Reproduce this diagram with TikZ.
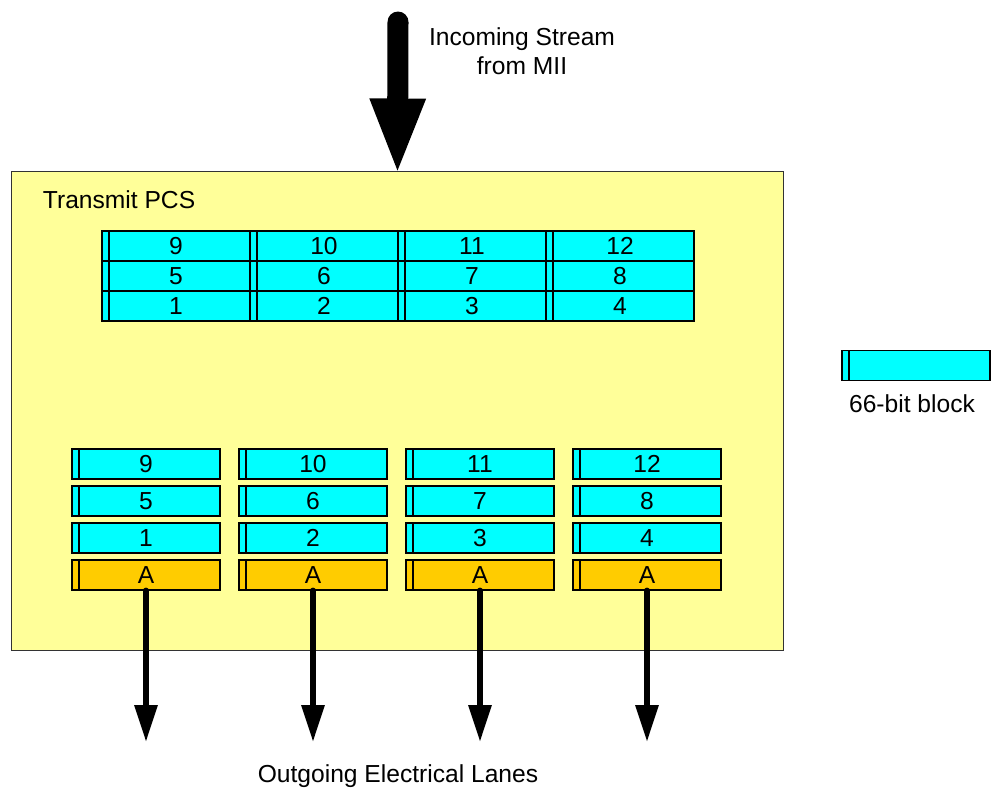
\documentclass[tikz,border=0pt]{standalone}
\usepackage{fontspec}
\setmainfont{Liberation Sans}
\usetikzlibrary{arrows.meta}

\definecolor{pcsyellow}{HTML}{FFFF99}
\definecolor{blkcyan}{HTML}{00FFFF}
\definecolor{laneorange}{HTML}{FFCC00}

\tikzset{
  blk/.style={draw,line width=0.8pt,fill=blkcyan,minimum width=3.7cm,minimum height=0.75cm,inner sep=0pt,
    path picture={\draw[line width=0.8pt] ([xshift=0.175cm]path picture bounding box.north west) -- ([xshift=0.175cm]path picture bounding box.south west);}},
  ablk/.style={blk,fill=laneorange},
  bigarrow/.style={line width=0.525cm,line cap=round,shorten >=-0.125cm,-{Triangle[width=1.25cm,length=1.925cm]}},
  lanearrow/.style={line width=0.15cm,line cap=round,shorten >=-0.05cm,-{Triangle[width=0.55cm,length=0.925cm]}}
}

\begin{document}
\begin{tikzpicture}[x=0.025cm,y=-0.025cm,font=\fontsize{17.5}{20.5}\selectfont,every node/.style={text centered}]

\useasboundingbox (0,0) rectangle (994,792);

\node [draw=black!80,line width=0.6pt,fill=pcsyellow,minimum width=19.275cm,minimum height=11.975cm,inner sep=0pt] (pcs) at (397.5,410.5) {};
\node [anchor=west] (pcsname) at (38,200) {Transmit PCS};

% incoming stream
\coordinate (in) at (398,22);
\draw[bigarrow] (in) -- (pcs.north);
\node [align=center] (intext) at (522,51) {Incoming Stream\\from MII};

% blocks before distribution
\node [blk] (t9) at (176,246) {9};
\node [blk] (t10) at (324,246) {10};
\node [blk] (t11) at (472,246) {11};
\node [blk] (t12) at (620,246) {12};
\node [blk] (t5) at (176,276) {5};
\node [blk] (t6) at (324,276) {6};
\node [blk] (t7) at (472,276) {7};
\node [blk] (t8) at (620,276) {8};
\node [blk] (t1) at (176,306) {1};
\node [blk] (t2) at (324,306) {2};
\node [blk] (t3) at (472,306) {3};
\node [blk] (t4) at (620,306) {4};

% lanes
\node [blk] (l9) at (146,464) {9};
\node [blk] (l10) at (313,464) {10};
\node [blk] (l11) at (480,464) {11};
\node [blk] (l12) at (647,464) {12};
\node [blk] (l5) at (146,501) {5};
\node [blk] (l6) at (313,501) {6};
\node [blk] (l7) at (480,501) {7};
\node [blk] (l8) at (647,501) {8};
\node [blk] (l1) at (146,538) {1};
\node [blk] (l2) at (313,538) {2};
\node [blk] (l3) at (480,538) {3};
\node [blk] (l4) at (647,538) {4};
\node [ablk] (a1) at (146,575) {A};
\node [ablk] (a2) at (313,575) {A};
\node [ablk] (a3) at (480,575) {A};
\node [ablk] (a4) at (647,575) {A};

\coordinate (o1) at (146,740);
\coordinate (o2) at (313,740);
\coordinate (o3) at (480,740);
\coordinate (o4) at (647,740);
\draw[lanearrow] (a1.south) -- (o1);
\draw[lanearrow] (a2.south) -- (o2);
\draw[lanearrow] (a3.south) -- (o3);
\draw[lanearrow] (a4.south) -- (o4);

\node (outtext) at (398,776) {Outgoing Electrical Lanes};

% legend
\node [blk] (key) at (916,365.5) {};
\node (keytext) at (912,404) {66-bit block};

\end{tikzpicture}
\end{document}
